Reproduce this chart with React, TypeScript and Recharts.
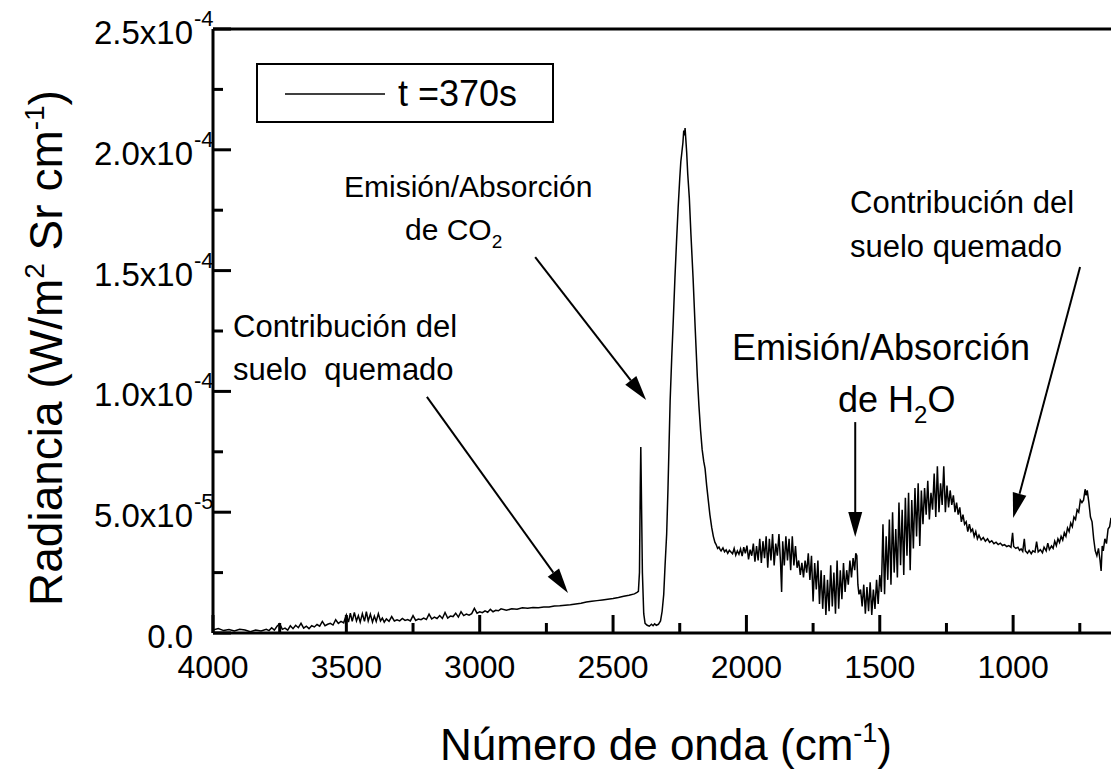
import React from 'react';
import { LineChart, Line, XAxis, YAxis, ReferenceLine, Legend } from 'recharts';

const FONT = '"Liberation Sans", Arial, Helvetica, sans-serif';

// número de onda (cm-1) y radiancia en unidades de 1e-5 W/m2 Sr cm-1, por tramos
const wnSoil = [
  4000, 3980, 3960, 3940, 3920, 3900, 3880, 3860, 3840, 3820,
  3800, 3790, 3780, 3770, 3760, 3750, 3740, 3730, 3720, 3710,
  3700, 3690, 3680, 3670, 3660, 3650, 3640, 3630, 3620, 3610,
  3600, 3590, 3580, 3570, 3560, 3550, 3540, 3530, 3520, 3510,
  3500, 3492, 3485, 3478, 3470, 3462, 3455, 3448, 3440, 3432,
  3425, 3418, 3410, 3402, 3395, 3388, 3380, 3372, 3365, 3358,
  3350, 3340, 3330, 3320, 3310, 3300, 3290, 3280, 3270, 3260,
  3250, 3240, 3230, 3220, 3210, 3200, 3190, 3180, 3170, 3160,
  3150, 3140, 3130, 3120, 3110, 3100, 3090, 3080, 3070, 3060,
  3050, 3040, 3030, 3020, 3010, 3000, 2990, 2980, 2970, 2960,
  2950, 2940, 2930, 2920, 2900, 2880, 2860, 2840, 2820, 2800,
  2780, 2760, 2740, 2720, 2700, 2680, 2660, 2640, 2620, 2600,
  2580, 2560, 2540, 2520, 2500, 2480, 2460, 2440, 2420, 2410,
];
const radSoil = [
  0.12, 0.18, 0.10, 0.14, 0.08, 0.15, 0.12, 0.05, 0.12, 0.08,
  0.15, 0.10, 0.22, 0.12, 0.28, 0.38, 0.15, 0.20, 0.12, 0.30,
  0.18, 0.32, 0.22, 0.40, 0.20, 0.28, 0.18, 0.30, 0.25, 0.35,
  0.28, 0.48, 0.30, 0.36, 0.40, 0.33, 0.55, 0.40, 0.48, 0.42,
  0.75, 0.45, 0.82, 0.48, 0.85, 0.50, 0.72, 0.45, 0.80, 0.48,
  0.88, 0.50, 0.78, 0.45, 0.70, 0.48, 0.80, 0.50, 0.62, 0.45,
  0.58, 0.48, 0.68, 0.50, 0.55, 0.50, 0.60, 0.52, 0.56, 0.50,
  0.72, 0.52, 0.58, 0.55, 0.62, 0.56, 0.78, 0.58, 0.66, 0.60,
  0.72, 0.60, 0.85, 0.62, 0.70, 0.68, 0.82, 0.66, 0.88, 0.72,
  0.78, 0.74, 0.80, 1.02, 0.82, 0.88, 0.84, 0.92, 0.86, 0.98,
  0.88, 0.94, 0.92, 1.00, 0.94, 1.00, 0.98, 1.04, 1.02, 1.06,
  1.05, 1.08, 1.08, 1.12, 1.13, 1.15, 1.17, 1.20, 1.23, 1.28,
  1.31, 1.34, 1.37, 1.40, 1.43, 1.47, 1.52, 1.56, 1.62, 1.68,
];

const wnCO2 = [
  2405, 2401, 2398, 2396, 2394, 2390, 2385, 2380, 2372, 2364,
  2356, 2350, 2344, 2338, 2330, 2322, 2316, 2310, 2305, 2299,
  2294, 2290, 2286, 2280, 2274, 2268, 2262, 2256, 2250, 2246,
  2242, 2238, 2235, 2232, 2230, 2227, 2224, 2220, 2214, 2208,
  2200, 2192, 2184, 2178, 2172, 2166, 2160, 2155, 2149, 2143,
  2137, 2130, 2124, 2118, 2114, 2108, 2103, 2099,
];
const radCO2 = [
  1.72, 2.5, 6.0, 7.7, 6.0, 2.5, 0.8, 0.4, 0.32, 0.28,
  0.36, 0.30, 0.38, 0.32, 0.36, 0.5, 0.9, 1.6, 2.8, 4.1,
  6.0, 7.8, 9.6, 11.4, 13.0, 14.7, 16.2, 17.6, 18.8, 19.5,
  19.9, 20.3, 20.8, 20.6, 20.9, 20.4, 19.9, 19.0, 18.0, 16.5,
  14.7, 12.6, 10.6, 9.4, 8.4, 7.6, 7.1, 6.8, 6.1, 5.5,
  4.9, 4.36, 4.0, 3.75, 3.67, 3.5, 3.56, 3.46,
];

const wnWater = [
  2095, 2088, 2082, 2076, 2070, 2064, 2058, 2052, 2046, 2040,
  2034, 2028, 2022, 2016, 2010, 2004, 1998, 1992, 1986, 1980,
  1974, 1968, 1962, 1956, 1950, 1944, 1938, 1932, 1926, 1920,
  1914, 1908, 1902, 1896, 1890, 1884, 1878, 1872, 1868, 1864,
  1858, 1852, 1846, 1840, 1834, 1828, 1822, 1816, 1810, 1804,
  1798, 1792, 1786, 1780, 1774, 1768, 1762, 1756, 1750, 1744,
  1738, 1732, 1726, 1720, 1714, 1708, 1702, 1696, 1690, 1684,
  1678, 1672, 1666, 1660, 1654, 1648, 1642, 1636, 1630, 1624,
  1618, 1612, 1606, 1600, 1594, 1590, 1586, 1582, 1578, 1572,
  1566, 1560, 1554, 1548, 1542, 1536, 1530, 1524, 1518, 1512,
  1506, 1500, 1494, 1488, 1482, 1476, 1470, 1464, 1458, 1452,
  1446, 1440, 1434, 1428, 1422, 1416, 1410, 1404, 1398, 1392,
  1386, 1380, 1374, 1368, 1362, 1356, 1350, 1344, 1338, 1332,
  1326, 1320, 1314, 1308, 1302, 1296, 1290, 1284, 1278, 1272,
  1266, 1260, 1254, 1248, 1242, 1236, 1230, 1224, 1218, 1212,
  1206, 1200, 1194, 1188, 1182, 1176, 1170, 1164, 1158, 1152,
  1146, 1140, 1134,
];
const radWater = [
  3.40, 3.52, 3.36, 3.44, 3.30, 3.42, 3.35, 3.28, 3.50, 3.22,
  3.40, 3.26, 3.48, 3.18, 3.55, 3.30, 3.62, 3.05, 3.45, 3.20,
  3.70, 2.95, 3.60, 3.0, 3.9, 2.9, 3.8, 3.1, 4.0, 2.7,
  3.9, 3.0, 4.1, 2.8, 3.7, 3.2, 4.1, 2.9, 1.7, 3.8,
  2.8, 4.0, 3.0, 3.9, 2.6, 4.0, 2.8, 3.6, 2.7, 3.0,
  2.4, 2.9, 2.3, 3.0, 2.5, 3.3, 2.2, 3.2, 1.3, 2.9,
  1.8, 3.0, 1.2, 2.6, 1.0, 2.4, 0.75, 2.2, 0.9, 2.8,
  1.1, 2.5, 0.8, 3.0, 1.0, 2.6, 1.4, 2.9, 1.7, 2.6,
  2.0, 3.0, 2.3, 3.1, 2.6, 3.3, 3.2, 2.0, 1.6, 1.8,
  1.1, 2.0, 0.8, 1.9, 0.9, 2.1, 0.75, 1.8, 1.0, 2.2,
  1.2, 2.4, 1.7, 4.5, 1.6, 4.0, 2.2, 4.7, 2.0, 5.0,
  2.5, 4.3, 2.3, 5.4, 2.8, 5.1, 2.4, 5.6, 3.2, 5.8,
  2.6, 5.5, 3.5, 6.0, 4.0, 6.2, 3.6, 5.9, 4.5, 6.0,
  4.9, 6.3, 4.7, 5.8, 5.1, 6.6, 4.8, 6.9, 5.0, 6.2,
  5.3, 6.9, 5.0, 6.1, 5.2, 5.9, 5.3, 5.7, 5.0, 5.4,
  4.9, 5.2, 4.6, 4.9, 4.5, 4.6, 4.2, 4.5, 4.2, 4.3,
  4.0, 4.2, 3.9,
];

const wnTail = [
  1128, 1120, 1112, 1104, 1096, 1088, 1080, 1072, 1064, 1056,
  1048, 1040, 1032, 1024, 1016, 1008, 1002, 998, 990, 982,
  976, 970, 964, 958, 954, 946, 940, 932, 926, 918,
  912, 906, 898, 890, 884, 876, 870, 864, 856, 850,
  844, 838, 832, 826, 820, 814, 808, 802, 796, 790,
  784, 778, 772, 766, 760, 754, 748, 742, 736, 730,
  726, 722, 716, 710, 704, 698, 692, 686, 680, 674,
  670, 666, 662, 656, 650, 644, 638, 633,
];
const radTail = [
  4.05, 3.85, 3.95, 3.80, 3.90, 3.75, 3.82, 3.70, 3.76, 3.66,
  3.72, 3.62, 3.66, 3.58, 3.62, 3.55, 4.15, 3.58, 3.50, 3.55,
  3.42, 3.48, 3.38, 3.90, 3.40, 3.30, 3.42, 3.28, 3.40, 3.35,
  3.78, 3.36, 3.45, 3.32, 3.55, 3.40, 3.72, 3.45, 3.60, 3.50,
  3.80, 3.62, 3.90, 3.75, 4.00, 3.85, 4.15, 4.00, 4.35, 4.20,
  4.55, 4.40, 4.80, 4.70, 5.10, 5.00, 5.50, 5.40, 5.50, 5.95,
  5.70, 5.90, 5.40, 4.80, 4.60, 3.90, 3.40, 3.20, 3.50, 3.00,
  2.57, 3.60, 3.40, 3.90, 3.70, 4.30, 4.40, 4.77,
];

const xTicks = [4000, 3750, 3500, 3250, 3000, 2750, 2500, 2250, 2000, 1750, 1500, 1250, 1000, 750];
const yTicks = [0, 2.5e-5, 5e-5, 7.5e-5, 1e-4, 1.25e-4, 1.5e-4, 1.75e-4, 2e-4, 2.25e-4, 2.5e-4];
const yTickLabels = ['0.0', '', '5.0x10|-5', '', '1.0x10|-4', '', '1.5x10|-4', '', '2.0x10|-4', '', '2.5x10|-4'];

// flechas de las anotaciones, en coordenadas de los datos (cm-1, radiancia)
const arrows = [
  { x1: 3198, y1: 9.77e-5, x2: 2669, y2: 1.66e-5 },
  { x1: 2792, y1: 1.556e-4, x2: 2376, y2: 9.64e-5 },
  { x1: 1592, y1: 8.73e-5, x2: 1592, y2: 3.97e-5 },
  { x1: 749, y1: 1.515e-4, x2: 1000, y2: 4.76e-5 },
];

const wavenumbers = [...wnSoil, ...wnCO2, ...wnWater, ...wnTail];
const radiance = [...radSoil, ...radCO2, ...radWater, ...radTail];
const data = wavenumbers.map((wn, i) => ({ wn, r: radiance[i] * 1e-5 }));

const XTick = (props: any) => {
  const { x, y, payload } = props;
  const major = payload.value % 500 === 0;
  return (
    <g>
      <line x1={x} x2={x} y1={y} y2={y - (major ? 18 : 10)} stroke="#000" strokeWidth={3} />
      {major && (
        <text x={x} y={y + 45} textAnchor="middle" fontSize={32} fontFamily={FONT} fill="#000">
          {payload.value}
        </text>
      )}
    </g>
  );
};

const YTick = (props: any) => {
  const { x, y, payload } = props;
  const label = yTickLabels[yTicks.indexOf(payload.value)] || '';
  const [base, exp] = label.split('|');
  const major = label !== '';
  return (
    <g>
      <line x1={x} x2={x + (major ? 18 : 10)} y1={y} y2={y} stroke="#000" strokeWidth={3} />
      {major && (
        <text x={x - 20} y={y + 15} textAnchor="end" fontSize={33} fontFamily={FONT} fill="#000">
          {base}
        </text>
      )}
      {exp && (
        <text x={x - 19} y={y - 3} fontSize={22} fontFamily={FONT} fill="#000">
          {exp}
        </text>
      )}
    </g>
  );
};

const Arrow = (props: any) => {
  const { x1, y1, x2, y2 } = props;
  const len = Math.hypot(x2 - x1, y2 - y1) || 1;
  const ux = (x2 - x1) / len;
  const uy = (y2 - y1) / len;
  const bx = x2 - ux * 25;
  const by = y2 - uy * 25;
  return (
    <g>
      <line x1={x1} y1={y1} x2={bx} y2={by} stroke="#000" strokeWidth={2} />
      <polygon points={`${x2},${y2} ${bx - uy * 7},${by + ux * 7} ${bx + uy * 7},${by - ux * 7}`} fill="#000" />
    </g>
  );
};

const LegendBox = () => (
  <div style={{ width: 294, height: 56, border: '2px solid #000', background: '#fff' }}>
    <svg width={294} height={56} style={{ display: 'block' }}>
      <line x1={27} x2={127} y1={29} y2={29} stroke="#000" strokeWidth={1.5} />
      <text x={140} y={41} fontSize={36} fontFamily={FONT} fill="#000">t =370s</text>
    </svg>
  </div>
);

export default function App() {
  return (
    <div style={{ position: 'absolute', left: 0, top: 0, width: 1111, height: 776, background: '#fff' }}>
      <LineChart width={1111} height={776} data={data} margin={{ top: 29, right: 0, bottom: 0, left: 0 }}>
        <XAxis
          dataKey="wn"
          type="number"
          domain={[633, 4000]}
          reversed
          allowDataOverflow
          ticks={xTicks}
          interval={0}
          height={143}
          tickSize={0}
          tickMargin={0}
          tickLine={false}
          tick={<XTick />}
          axisLine={{ stroke: '#000', strokeWidth: 3 }}
        />
        <YAxis
          type="number"
          domain={[0, 2.5e-4]}
          ticks={yTicks}
          interval={0}
          width={213}
          tickSize={0}
          tickMargin={0}
          tickLine={false}
          tick={<YTick />}
          axisLine={{ stroke: '#000', strokeWidth: 3 }}
        />
        <ReferenceLine y={2.5e-4} stroke="#000" strokeWidth={3} ifOverflow="visible" />
        <Legend
          layout="horizontal"
          verticalAlign="middle"
          align="center"
          content={<LegendBox />}
          wrapperStyle={{ left: 256, top: 63, width: 298, height: 60 }}
        />
        {arrows.map((a, i) => (
          <ReferenceLine
            key={i}
            segment={[{ x: a.x1, y: a.y1 }, { x: a.x2, y: a.y2 }]}
            ifOverflow="visible"
            shape={<Arrow />}
          />
        ))}
        <Line
          type="linear"
          dataKey="r"
          stroke="#000"
          strokeWidth={1.5}
          dot={false}
          activeDot={false}
          isAnimationActive={false}
        />
        <g fontFamily={FONT} fill="#000">
          <text x={344} y={197} fontSize={30}>Emisión/Absorción</text>
          <text x={405} y={240} fontSize={30}>
            de CO<tspan fontSize={19} dy={8}>2</tspan>
          </text>
          <text x={233} y={337} fontSize={31}>Contribución del</text>
          <text x={233} y={380} fontSize={31} xmlSpace="preserve">suelo  quemado</text>
          <text x={850} y={213} fontSize={31}>Contribución del</text>
          <text x={850} y={257} fontSize={31}>suelo quemado</text>
          <text x={732} y={360} fontSize={36}>Emisión/Absorción</text>
          <text x={838} y={412} fontSize={36}>
            de H<tspan fontSize={24} dy={11}>2</tspan><tspan dy={-11}>O</tspan>
          </text>
          <text transform="translate(62, 348) rotate(-90)" textAnchor="middle" fontSize={46}>
            Radiancia (W/m<tspan dy={-18} fontSize={28}>2</tspan>
            <tspan dy={18}> Sr cm</tspan>
            <tspan dy={-18} fontSize={28}>-1</tspan>
            <tspan dy={18}>)</tspan>
          </text>
          <text x={440} y={760} fontSize={44}>
            Número de onda (cm<tspan dy={-18} fontSize={27}>-1</tspan><tspan dy={18}>)</tspan>
          </text>
        </g>
      </LineChart>
    </div>
  );
}
